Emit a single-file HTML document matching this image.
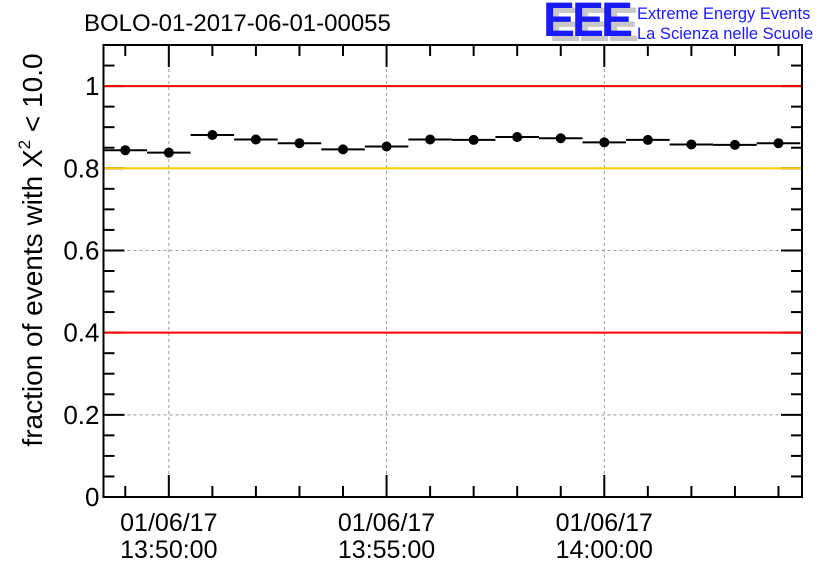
<!DOCTYPE html>
<html><head><meta charset="utf-8"><style>
html,body{margin:0;padding:0;background:#fff;}
svg{display:block;font-family:"Liberation Sans",sans-serif;}
</style></head><body>
<svg id="chart" width="836" height="572" viewBox="0 0 836 572" xmlns="http://www.w3.org/2000/svg">
<text x="84" y="31" font-size="24">BOLO-01-2017-06-01-00055</text>
<g>
<text x="549" y="41" font-size="48" font-weight="bold" fill="#c8c8c8" letter-spacing="-3">EEE</text>
<text x="543" y="36" font-size="48" font-weight="bold" fill="#1a1aff" letter-spacing="-3">EEE</text>
<text x="637" y="19" font-size="16.5" fill="#1a1aff">Extreme Energy Events</text>
<text x="637" y="39" font-size="16.5" fill="#1a1aff">La Scienza nelle Scuole</text>
</g>
<text transform="translate(42,250) rotate(-90)" text-anchor="middle" font-size="28">fraction of events with X<tspan font-size="17" dy="-12">2</tspan><tspan dy="12"> &lt; 10.0</tspan></text>
<g id="plot"></g>
</svg>
<script>
const minutes = [-1,0,1,2,3,4,5,6,7,8,9,10,11,12,13,14];
const fractions = [0.844,0.838,0.881,0.870,0.861,0.846,0.853,0.870,0.869,0.876,0.873,0.863,0.869,0.858,0.857,0.861];
const yTicks = [0,0.2,0.4,0.6,0.8,1];
const yTickLabels = ["0","0.2","0.4","0.6","0.8","1"];
const xMajor = [0,5,10];
const xDates = ["01/06/17","01/06/17","01/06/17"];
const xTimes = ["13:50:00","13:55:00","14:00:00"];
const refLines = [{v:1,c:"#ff0000"},{v:0.8,c:"#ffcc00"},{v:0.4,c:"#ff0000"}];

const L=103.5,R=802,T=45,B=497;
const xMin=-1.5, xMax=14.54, yMin=0, yMax=1.1;
const X=v=>L+(v-xMin)/(xMax-xMin)*(R-L);
const Y=v=>B-(v-yMin)/(yMax-yMin)*(B-T);
const NS="http://www.w3.org/2000/svg";
const g=document.getElementById('plot');
function el(tag,attrs){const e=document.createElementNS(NS,tag);for(const k in attrs)e.setAttribute(k,attrs[k]);g.appendChild(e);return e;}

yTicks.forEach(v=>{ if(v>0&&v<1){const e=el('line',{x1:L,x2:R,y1:Y(v),y2:Y(v),stroke:'#999','stroke-dasharray':'3,3','stroke-width':1});

}});
xMajor.forEach(v=>{const e=el('line',{x1:X(v),x2:X(v),y1:T,y2:B,stroke:'#999','stroke-dasharray':'3,3','stroke-width':1});

});
// y ticks
for(let k=0;k<=22;k++){const v=k*0.05;const major=k%4===0;const len=major?21:11;
 const a=el('line',{x1:L,x2:L+len,y1:Y(v),y2:Y(v),stroke:'#000','stroke-width':2});
 
 
 const b=el('line',{x1:R-len,x2:R,y1:Y(v),y2:Y(v),stroke:'#000','stroke-width':2});
 
 }
// x ticks
for(let m=-1;m<=14;m++){const major=m%5===0;const len=major?22:11;
 const a=el('line',{x1:X(m),x2:X(m),y1:B-len,y2:B,stroke:'#000','stroke-width':2});
 
 
 const b=el('line',{x1:X(m),x2:X(m),y1:T,y2:T+len,stroke:'#000','stroke-width':2});
 
 }
refLines.forEach(r=>{const e=el('line',{x1:L,x2:R,y1:Y(r.v),y2:Y(r.v),stroke:r.c,'stroke-width':2});

});
minutes.forEach((m,i)=>{
 const h=el('line',{x1:Math.max(L,X(m-0.5)),x2:Math.min(R,X(m+0.5)),y1:Y(fractions[i]),y2:Y(fractions[i]),stroke:'#000','stroke-width':2});
 
 
 const c=el('circle',{cx:X(m),cy:Y(fractions[i]),r:5,fill:'#000'});
 
 
});
const f=el('rect',{x:L,y:T,width:R-L,height:B-T,fill:'none',stroke:'#000','stroke-width':2});


yTicks.forEach((v,i)=>{const t=el('text',{x:L-4,y:Y(v)+9,'text-anchor':'end','font-size':26});t.textContent=yTickLabels[i];
 
 });
xMajor.forEach((v,i)=>{
 const t1=el('text',{x:X(v),y:531,'text-anchor':'middle','font-size':25});t1.textContent=xDates[i];
 
 
 const t2=el('text',{x:X(v),y:558,'text-anchor':'middle','font-size':25});t2.textContent=xTimes[i];
 
 });
</script>
</body></html>
